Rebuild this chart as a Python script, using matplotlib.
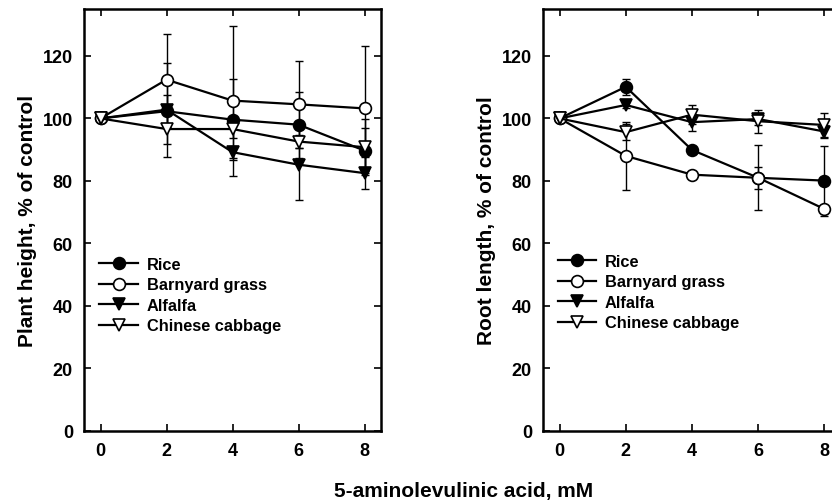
import matplotlib
matplotlib.use("Agg")
import matplotlib.pyplot as plt
import numpy as np

plt.rcParams['font.family'] = ['Liberation Sans', 'DejaVu Sans']
plt.rcParams['font.weight'] = 'bold'

conc = [0, 2, 4, 6, 8]
species = ["Rice", "Barnyard grass", "Alfalfa", "Chinese cabbage"]

# Plant height, % of control
height_rice = [100, 102.3, 99.6, 98.0, 89.7]
height_barnyard = [100, 112.4, 105.7, 104.5, 103.2]
height_alfalfa = [100, 102.8, 89.2, 85.2, 82.5]
height_cabbage = [100, 96.6, 96.6, 92.6, 90.8]
height_rice_err = [0, 5.2, 13.0, 10.6, 7.3]
height_barnyard_err = [0, 14.7, 24.0, 14.0, 20.0]
height_alfalfa_err = [0, 15.0, 2.0, 11.3, 5.0]
height_cabbage_err = [0, 4.7, 3.0, 2.0, 9.0]

# Root length, % of control
root_rice = [100, 110.1, 89.9, 81.0, 80.1]
root_barnyard = [100, 88.0, 82.0, 81.0, 71.0]
root_alfalfa = [100, 104.3, 98.8, 99.8, 95.8]
root_cabbage = [100, 95.6, 101.2, 99.1, 97.9]
root_rice_err = [0, 2.6, 1.0, 10.4, 11.2]
root_barnyard_err = [0, 10.8, 1.0, 3.6, 1.0]
root_alfalfa_err = [0, 1.0, 2.7, 2.0, 2.0]
root_cabbage_err = [0, 2.6, 3.0, 3.7, 3.8]

yticks = [0, 20, 40, 60, 80, 100, 120]
xticks = [0, 2, 4, 6, 8]

styles = [
    dict(marker='o', mfc='black', mec='black', ms=8.5),
    dict(marker='o', mfc='white', mec='black', ms=8.5),
    dict(marker='v', mfc='black', mec='black', ms=8),
    dict(marker='v', mfc='white', mec='black', ms=8),
]

fig = plt.figure(figsize=(8.32, 5.02), dpi=100)
W, H = 832, 502
ax1 = fig.add_axes([84 / W, 1 - 432 / H, 297 / W, 422 / H])
ax2 = fig.add_axes([543 / W, 1 - 432 / H, 298 / W, 422 / H])


def draw(ax, series, errs, ylabel, leg_anchor):
    for i, (vals, err) in enumerate(zip(series, errs)):
        ax.errorbar(conc, vals, yerr=err, fmt='none', ecolor='black',
                    elinewidth=1.0, capsize=3, capthick=1.0, zorder=2)
    handles = []
    for i, vals in enumerate(series):
        h, = ax.plot(conc, vals, color='black', lw=1.6, mew=1.2,
                     zorder=3 + i, label=species[i], **styles[i])
        handles.append(h)
    ax.set_xlim(-0.5, 8.5)
    ax.set_ylim(0, 135)
    ax.set_xticks(xticks)
    ax.set_yticks(yticks)
    ax.tick_params(direction='in', length=5, width=1.2, top=True, right=True,
                   labelsize=13, pad=8)
    for lab in ax.get_xticklabels() + ax.get_yticklabels():
        lab.set_fontweight('bold')
    for s in ax.spines.values():
        s.set_linewidth(1.8)
    ax.set_ylabel(ylabel, fontsize=15, fontweight='bold', labelpad=4)
    leg = ax.legend(handles=handles, loc='upper left', bbox_to_anchor=leg_anchor,
                    frameon=False, fontsize=11.8, handlelength=2.36,
                    handletextpad=0.53, labelspacing=0.34, borderpad=0,
                    borderaxespad=0)
    for t in leg.get_texts():
        t.set_fontweight('bold')


draw(ax1, [height_rice, height_barnyard, height_alfalfa, height_cabbage],
     [height_rice_err, height_barnyard_err, height_alfalfa_err, height_cabbage_err],
     "Plant height, % of control", (0.0515, 0.413))
draw(ax2, [root_rice, root_barnyard, root_alfalfa, root_cabbage],
     [root_rice_err, root_barnyard_err, root_alfalfa_err, root_cabbage_err],
     "Root length, % of control", (0.049, 0.420))

fig.text(464 / W, 1 - 491.5 / H, "5-aminolevulinic acid, mM", ha='center',
         va='center', fontsize=15, fontweight='bold')

fig.savefig("out.png", dpi=100)
